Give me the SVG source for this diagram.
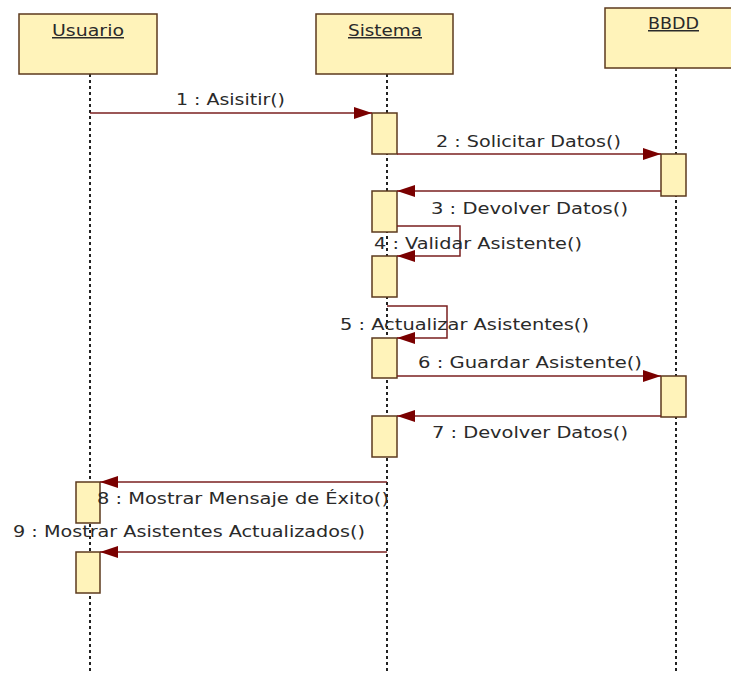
<svg xmlns="http://www.w3.org/2000/svg" width="731" height="674" viewBox="0 0 731 674">
<style>
.obj{fill:#FFF3BA;stroke:#5C3A1E;stroke-width:1.5}
.act{fill:#FFF3BA;stroke:#5C3A1E;stroke-width:1.5}
.life{stroke:#222;stroke-width:2;stroke-dasharray:3,3;fill:none}
.msg{stroke:#7A1F1F;stroke-width:1.5;fill:none}
text{font-family:"DejaVu Sans","Liberation Sans",sans-serif;font-size:15px;fill:#2a2a2a}
.name{text-decoration:underline}
</style>
<defs>
<marker id="arr" markerWidth="18" markerHeight="12" refX="18" refY="6" orient="auto" markerUnits="userSpaceOnUse">
<path d="M0,0 L18,6 L0,12 Z" fill="#7A0000"/>
</marker>
</defs>
<rect width="731" height="674" fill="#fff"/>
<g id="lifelines">
<line class="life" x1="90" y1="74" x2="90" y2="674"/>
<line class="life" x1="387" y1="74" x2="387" y2="674"/>
<line class="life" x1="676" y1="68" x2="676" y2="674"/>
</g>
<g id="usuario">
<rect class="obj" x="19" y="14" width="138" height="60"/>
<text class="name" x="52" y="36" textLength="72" lengthAdjust="spacingAndGlyphs">Usuario</text>
</g>
<g id="sistema">
<rect class="obj" x="316" y="14" width="137" height="60"/>
<text class="name" x="348" y="36" textLength="74" lengthAdjust="spacingAndGlyphs">Sistema</text>
</g>
<g id="bbdd">
<rect class="obj" x="605" y="8" width="138" height="60"/>
<text class="name" x="648" y="29" textLength="51" lengthAdjust="spacingAndGlyphs">BBDD</text>
</g>
<g id="activations">
<rect class="act" x="372" y="113" width="25" height="41"/>
<rect class="act" x="372" y="191" width="25" height="41"/>
<rect class="act" x="372" y="256" width="25" height="41"/>
<rect class="act" x="372" y="338" width="25" height="40"/>
<rect class="act" x="372" y="416" width="25" height="41"/>
<rect class="act" x="661" y="154" width="25" height="42"/>
<rect class="act" x="661" y="376" width="25" height="41"/>
<rect class="act" x="76" y="482" width="24" height="41"/>
<rect class="act" x="76" y="552" width="24" height="41"/>
</g>
<g id="connectors">
<line class="msg" x1="90" y1="113" x2="372" y2="113" marker-end="url(#arr)"/>
<line class="msg" x1="397" y1="154" x2="661" y2="154" marker-end="url(#arr)"/>
<line class="msg" x1="661" y1="191" x2="397" y2="191" marker-end="url(#arr)"/>
<path class="msg" d="M397,226 H460 V256 H397" marker-end="url(#arr)"/>
<path class="msg" d="M387,306 H447 V338 H397" marker-end="url(#arr)"/>
<line class="msg" x1="397" y1="376" x2="661" y2="376" marker-end="url(#arr)"/>
<line class="msg" x1="661" y1="416" x2="397" y2="416" marker-end="url(#arr)"/>
<line class="msg" x1="387" y1="482" x2="100" y2="482" marker-end="url(#arr)"/>
<line class="msg" x1="387" y1="552" x2="100" y2="552" marker-end="url(#arr)"/>
</g>
<g id="labels">
<text x="176" y="105" textLength="109" lengthAdjust="spacingAndGlyphs">1 : Asisitir()</text>
<text x="436" y="147" textLength="185" lengthAdjust="spacingAndGlyphs">2 : Solicitar Datos()</text>
<text x="431" y="214" textLength="197" lengthAdjust="spacingAndGlyphs">3 : Devolver Datos()</text>
<text x="374" y="249" textLength="208" lengthAdjust="spacingAndGlyphs">4 : Validar Asistente()</text>
<text x="340" y="330" textLength="249" lengthAdjust="spacingAndGlyphs">5 : Actualizar Asistentes()</text>
<text x="418" y="368" textLength="224" lengthAdjust="spacingAndGlyphs">6 : Guardar Asistente()</text>
<text x="432" y="438" textLength="196" lengthAdjust="spacingAndGlyphs">7 : Devolver Datos()</text>
<text x="97" y="504" textLength="292" lengthAdjust="spacingAndGlyphs">8 : Mostrar Mensaje de Éxito()</text>
<text x="13" y="537" textLength="352" lengthAdjust="spacingAndGlyphs">9 : Mostrar Asistentes Actualizados()</text>
</g>
</svg>
